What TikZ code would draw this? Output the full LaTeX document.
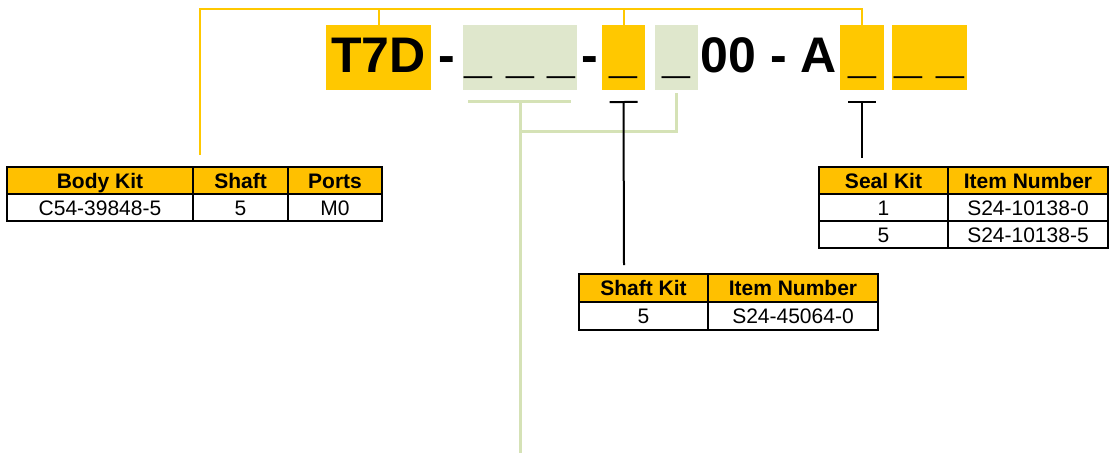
\documentclass[tikz,border=0pt]{standalone}
\usepackage{fontspec}
\setmainfont{Liberation Sans}
\usepackage{xcolor}
\usetikzlibrary{arrows.meta,positioning}
\definecolor{codeyellow}{HTML}{FFC800}
\definecolor{headyellow}{HTML}{FFC000}
\definecolor{codegreen}{HTML}{DFE7CC}
\definecolor{linegreen}{HTML}{D5E2B6}
\tikzstyle{yline} = [draw=codeyellow, line width=2pt]
\tikzstyle{gline} = [draw=linegreen, line width=3pt]
\tikzstyle{tbar} = [{Bar[width=28pt]}-, line width=2pt]
\tikzstyle{codebox} = [inner sep=0pt, outer sep=0pt, text height=47.7pt, text depth=17.3pt, anchor=base, font=\fontsize{50}{60}\selectfont\bfseries]
\tikzstyle{cell} = [draw, line width=2pt, inner sep=0pt, outer sep=0pt, minimum height=27pt, text height=15pt, text depth=0pt, anchor=north west, font=\fontsize{21}{25}\selectfont]
\tikzstyle{head} = [cell, fill=headyellow, font=\fontsize{21}{25}\selectfont\bfseries]

\begin{document}
\begin{tikzpicture}[x=1pt, y=-1pt]
	\useasboundingbox [fill=white] (0,0) rectangle (1109,453);

	% order code
	\node (code1) [codebox, fill=codeyellow, minimum width=105pt] at (378.5,72.7) {T7D};
	\node (dash1) [codebox] at (447,72.7) {-};
	\node (code2) [codebox, fill=codegreen, minimum width=114pt] at (520,72.7) {\_ \_ \_};
	\node (dash2) [codebox] at (590,72.7) {-};
	\node (code3) [codebox, fill=codeyellow, minimum width=43pt] at (623.5,72.7) {\_};
	\node (code4) [codebox, fill=codegreen, minimum width=43pt] at (676.5,72.7) {\_};
	\node (code5) [codebox] at (769,72.7) {00 - A};
	\node (code6) [codebox, fill=codeyellow, minimum width=44pt] at (862,72.7) {\_};
	\node (code7) [codebox, fill=codeyellow, minimum width=75pt] at (929.5,72.7) {\_ \_};

	% body kit
	\node (bk1) [head, minimum width=186pt] at (7,167) {Body Kit};
	\node (bk2) [head, minimum width=95pt, right=0pt of bk1] {Shaft};
	\node (bk3) [head, minimum width=94pt, right=0pt of bk2] {Ports};
	\node (bk4) [cell, minimum width=186pt, below=0pt of bk1] {C54-39848-5};
	\node (bk5) [cell, minimum width=95pt, right=0pt of bk4] {5};
	\node (bk6) [cell, minimum width=94pt, right=0pt of bk5] {M0};

	% seal kit
	\node (sl1) [head, minimum width=129pt] at (819,167) {Seal Kit};
	\node (sl2) [head, minimum width=160pt, right=0pt of sl1] {Item Number};
	\node (sl3) [cell, minimum width=129pt, below=0pt of sl1] {1};
	\node (sl4) [cell, minimum width=160pt, right=0pt of sl3] {S24-10138-0};
	\node (sl5) [cell, minimum width=129pt, below=0pt of sl3] {5};
	\node (sl6) [cell, minimum width=160pt, right=0pt of sl5] {S24-10138-5};

	% shaft kit
	\node (sk1) [head, minimum width=129pt, minimum height=28pt] at (579,274) {Shaft Kit};
	\node (sk2) [head, minimum width=170pt, minimum height=28pt, right=0pt of sk1] {Item Number};
	\node (sk3) [cell, minimum width=129pt, minimum height=28pt, below=0pt of sk1] {5};
	\node (sk4) [cell, minimum width=170pt, minimum height=28pt, right=0pt of sk3] {S24-45064-0};

	\coordinate (ycorner) at (200,9);
	\coordinate (bkjoin) at (200,155);
	\coordinate (gbarl) at (468,101);
	\coordinate (gbarr) at (571,101);
	\coordinate (gjoin) at (520,101);
	\coordinate (gknee) at (520,131);
	\coordinate (gend) at (520,453);
	\coordinate (skjoin) at (624,265);
	\coordinate (sljoin) at (862,158);

	\draw [yline] (bkjoin) -- (ycorner) -| (code6.north);
	\draw [yline] (code1.north) -- (code1.north |- ycorner);
	\draw [yline] (code3.north) -- (code3.north |- ycorner);

	\draw [gline] (gbarl) -- (gbarr);
	\draw [gline] (gjoin) -- (gend);
	\draw [gline] ([yshift=-3pt]code4.south) |- (gknee);

	\draw [tbar] ([yshift=-11pt]code3.south) -- (skjoin);
	\draw [tbar] ([yshift=-11pt]code6.south) -- (sljoin);
\end{tikzpicture}
\end{document}
